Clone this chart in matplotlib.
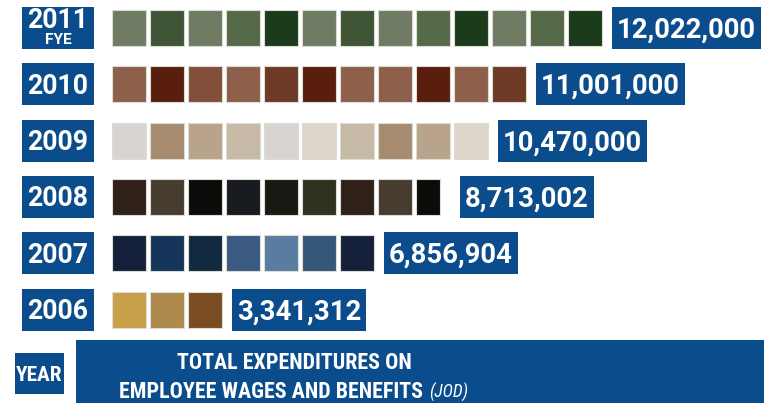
import math
import matplotlib
matplotlib.use("Agg")
import matplotlib.pyplot as plt
from matplotlib.patches import Rectangle
from matplotlib.font_manager import FontProperties
from matplotlib.textpath import TextPath

# ---------------- data ----------------
years = ["2011", "2010", "2009", "2008", "2007", "2006"]
year_notes = ["FYE", "", "", "", "", ""]
values = [12022000, 11001000, 10470000, 8713002, 6856904, 3341312]
squares = [13, 11, 10, 8.7, 7, 3]          # squares drawn per row
header_year = "YEAR"
header_title_1 = "TOTAL EXPENDITURES ON"
header_title_2 = "EMPLOYEE WAGES AND BENEFITS"
header_unit = "(JOD)"

# ---------------- style ----------------
BLUE = "#0b4d8c"
row_colors = [
    ["#6f7b63", "#3f5535", "#6f7b63", "#566a4a", "#1a3c1a", "#6f7b63", "#3f5535",
     "#6f7b63", "#566a4a", "#1a3c1a", "#6f7b63", "#566a4a", "#1a3c1a"],
    ["#8e604b", "#5a1e0e", "#82503a", "#8e604b", "#6d3a26", "#5a1e0e", "#8e604b",
     "#8e604b", "#5a1e0e", "#8e604b", "#6d3a26"],
    ["#d9d3d1", "#a68b70", "#b9a38a", "#c6baa6", "#d9d3d1", "#ddd6cb", "#c6baa6",
     "#a68b70", "#b9a38a", "#ddd6cb"],
    ["#30201a", "#463c30", "#0a0c0a", "#181b20", "#161a12", "#2d3320", "#30201a",
     "#463c30", "#0a0c0a"],
    ["#15213a", "#15365a", "#122a40", "#3a5a82", "#5a7ca0", "#355878", "#15213a"],
    ["#c9a04a", "#ad8a4c", "#7a4c22"],
]

NUM_FAM = ["Roboto", "DejaVu Sans"]
HEAD_FAM = ["Roboto Condensed", "DejaVu Sans"]

W, H = 764, 403
X0, UX = 112.0, 38.0      # pixel of square grid origin, pixels per square
Y0, UY = 28.0, 56.3       # pixel of first row centre, pixels per row


def X(px):
    return (px - X0) / UX


def Y(py):
    return (py - Y0) / UY


fig = plt.figure(figsize=(W / 100, H / 100), dpi=100)
ax = fig.add_axes([0, 0, 1, 1])
ax.set_xlim(X(0), X(W))
ax.set_ylim(Y(H), Y(0))
ax.axis("off")
renderer = fig.canvas.get_renderer()


def fit_size(text, family, target_w, weight="bold", style="normal"):
    t = ax.text(0, 0, text, fontsize=10, family=family, weight=weight, style=style)
    w = t.get_window_extent(renderer).width
    t.remove()
    return 10 * target_w / w


def cap_ratio(family, weight="bold"):
    fp = FontProperties(family=family, weight=weight)
    return TextPath((0, 0), "H", size=1, prop=fp).get_extents().height


def cap_px(family, fs, weight="bold"):
    return cap_ratio(family, weight) * fs / 0.72


fs_year = fit_size("2011", NUM_FAM, 61)
fs_val = fit_size(f"{values[0]:,}", NUM_FAM, 139)
fs_note = 11 * 0.72 / cap_ratio(NUM_FAM)
cap_year = cap_px(NUM_FAM, fs_year)
cap_val = cap_px(NUM_FAM, fs_val)

num_font = dict(family=NUM_FAM, weight="bold", color="white", zorder=3)
sq_w = 34 / UX
sq_h = 36 / UY

value_texts = []
for i, (yr, note, val, n) in enumerate(zip(years, year_notes, values, squares)):
    cols = row_colors[i]
    k = math.ceil(n)
    lefts = list(range(k))
    widths = [sq_w * min(1.0, n - j) for j in lefts]
    ax.barh([i] * k, widths, left=lefts, height=sq_h, color=cols[:k],
            edgecolor="#dcdcd4", linewidth=0.8, zorder=2)

    # year box
    cy = Y0 + i * UY
    ax.add_patch(Rectangle((X(22), Y(cy - 21)), 72 / UX, 42 / UY,
                           facecolor=BLUE, edgecolor="none", zorder=2))
    if note:
        ax.text(X(58), Y(cy + 0.5), yr, ha="center", va="baseline",
                fontsize=fs_year, **num_font)
        ax.text(X(58), Y(cy + 16.5), note, ha="center", va="baseline",
                fontsize=fs_note, **num_font)
    else:
        ax.text(X(58), Y(cy + cap_year / 2), yr, ha="center", va="baseline",
                fontsize=fs_year, **num_font)

    # value label
    box_left_px = X0 + k * UX - 4 + 10
    t = ax.text(X(box_left_px + 5), Y(cy + cap_val / 2), f"{val:,}",
                ha="left", va="baseline", fontsize=fs_val, **num_font)
    value_texts.append((t, box_left_px, cy))

# header boxes
ax.add_patch(Rectangle((X(15), Y(353)), 49 / UX, 41 / UY,
                       facecolor=BLUE, edgecolor="none", zorder=2))
ax.add_patch(Rectangle((X(76), Y(340)), 720 / UX, 80 / UY,
                       facecolor=BLUE, edgecolor="none", zorder=2))

fs_hy = fit_size(header_year, HEAD_FAM, 46)
fs_h1 = fit_size(header_title_1, HEAD_FAM, 232)
fs_h2 = fit_size(header_title_2, HEAD_FAM, 308)
fs_h = (fs_h1 + fs_h2) / 2
head = dict(family=HEAD_FAM, color="white", zorder=3)
ax.text(X(39.5), Y(373.5 + cap_px(HEAD_FAM, fs_hy) / 2), header_year, ha="center",
        va="baseline", fontsize=fs_hy, weight="bold", **head)
ax.text(X(294), Y(369), header_title_1, ha="center", va="baseline",
        fontsize=fs_h, weight="bold", **head)
t2 = ax.text(X(294), Y(398), header_title_2, ha="left", va="baseline",
             fontsize=fs_h, weight="bold", **head)
t3 = ax.text(X(294), Y(398), header_unit, ha="left", va="baseline",
             fontsize=fs_h * 0.8, style="italic", weight="normal", **head)

fig.canvas.draw()
for t, left_px, cy in value_texts:
    w = t.get_window_extent(renderer).width
    ax.add_patch(Rectangle((X(left_px), Y(cy - 21)), (w + 10) / UX, 42 / UY,
                           facecolor=BLUE, edgecolor="none", zorder=2))

w2 = t2.get_window_extent(renderer).width
w3 = t3.get_window_extent(renderer).width
gap = 6
start = 294 - (w2 + gap + w3) / 2
t2.set_x(X(start))
t3.set_x(X(start + w2 + gap))

fig.savefig("out.png", dpi=100)
